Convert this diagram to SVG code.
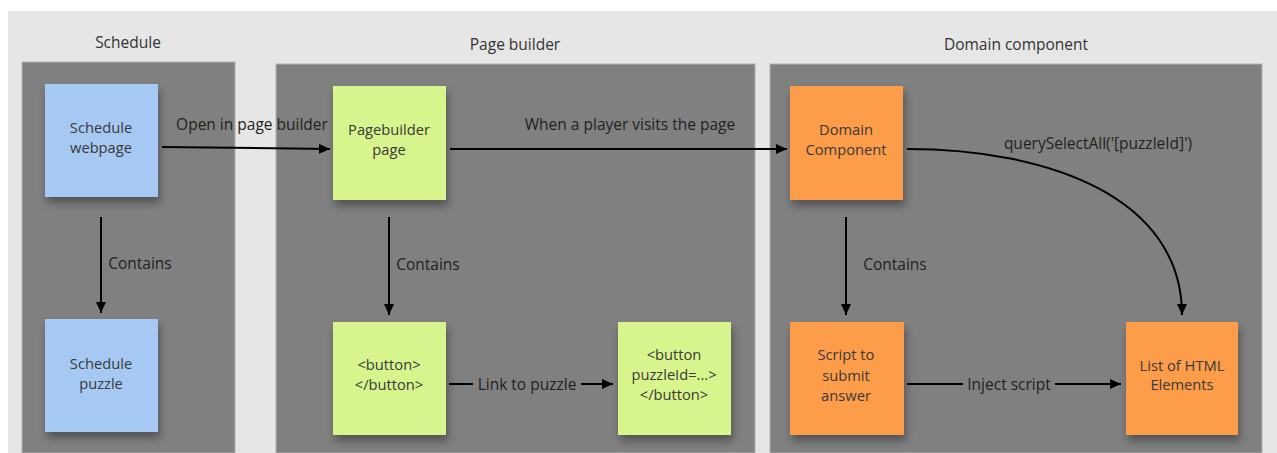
<svg xmlns="http://www.w3.org/2000/svg" width="1277" height="453" viewBox="0 0 1277 453">
<style>
text{font-family:"Open Sans","Liberation Sans",sans-serif;font-size:15.5px;text-anchor:middle}
.title{fill:#333}
.lbl{fill:#222}
.note text{fill:#3a3a3a;font-size:14.7px}
.panel{fill:#808080;stroke:#b0b0b0;stroke-width:1}
.blue{fill:#a6c9f3}
.green{fill:#d8f48d}
.orange{fill:#fd9d48}
.edge{stroke:#000;stroke-width:2;fill:none}
</style>
<defs>
<marker id="arr" markerUnits="userSpaceOnUse" markerWidth="12" markerHeight="10" refX="11" refY="5" orient="auto">
<path d="M0,0 L11,5 L0,10 z" fill="#000"/>
</marker>
<filter id="sh" x="-20%" y="-20%" width="140%" height="150%">
<feDropShadow dx="2" dy="6" stdDeviation="4" flood-color="#000" flood-opacity="0.35"/>
</filter>
</defs>
<rect x="0" y="0" width="1277" height="453" fill="#ffffff"/>
<rect x="8" y="11" width="1269" height="442" fill="#e6e6e6"/>
<g id="panel-schedule">
<rect class="panel" x="22" y="62" width="213" height="391"/>
<text class="title" x="128" y="48">Schedule</text>
</g>
<g id="panel-pagebuilder">
<rect class="panel" x="276" y="64" width="479" height="389"/>
<text class="title" x="515" y="50">Page builder</text>
</g>
<g id="panel-domain">
<rect class="panel" x="770" y="64" width="492" height="389"/>
<text class="title" x="1016" y="50">Domain component</text>
</g>
<g id="edges">
<path class="edge" d="M162,147 L330,149" marker-end="url(#arr)"/>
<text class="lbl" x="252" y="130">Open in page builder</text>
<path class="edge" d="M450,149 L787,149" marker-end="url(#arr)"/>
<text class="lbl" x="630" y="130">When a player visits the page</text>
<path class="edge" d="M101,217 L101,313" marker-end="url(#arr)"/>
<text class="lbl" x="140" y="269">Contains</text>
<path class="edge" d="M389,217 L389,315" marker-end="url(#arr)"/>
<text class="lbl" x="428" y="270">Contains</text>
<path class="edge" d="M846,217 L846,315" marker-end="url(#arr)"/>
<text class="lbl" x="895" y="270">Contains</text>
<path class="edge" d="M449,384 L473,384"/>
<path class="edge" d="M581,384 L613,384" marker-end="url(#arr)"/>
<text class="lbl" x="527" y="390" font-size="16.8">Link to puzzle</text>
<path class="edge" d="M907,384 L963,384"/>
<path class="edge" d="M1055,384 L1121,384" marker-end="url(#arr)"/>
<text class="lbl" x="1009" y="390" font-size="16.8">Inject script</text>
<path class="edge" d="M907,149 C1050,149 1182,198 1182,315" marker-end="url(#arr)"/>
<text class="lbl" x="1098" y="149">querySelectAll('[puzzleId]')</text>
</g>
<g id="node-schedule-webpage" class="note">
<rect class="blue" x="45" y="84" width="113" height="113" filter="url(#sh)"/>
<text x="101" y="133">Schedule</text>
<text x="101" y="153">webpage</text>
</g>
<g id="node-schedule-puzzle" class="note">
<rect class="blue" x="45" y="319" width="113" height="113" filter="url(#sh)"/>
<text x="101" y="369">Schedule</text>
<text x="101" y="389">puzzle</text>
</g>
<g id="node-pagebuilder-page" class="note">
<rect class="green" x="333" y="86" width="113" height="114" filter="url(#sh)"/>
<text x="389" y="135">Pagebuilder</text>
<text x="389" y="155">page</text>
</g>
<g id="node-button" class="note">
<rect class="green" x="333" y="322" width="113" height="113" filter="url(#sh)"/>
<text x="389" y="370">&lt;button&gt;</text>
<text x="389" y="390">&lt;/button&gt;</text>
</g>
<g id="node-button-puzzleid" class="note">
<rect class="green" x="618" y="322" width="113" height="113" filter="url(#sh)"/>
<text x="674" y="360">&lt;button</text>
<text x="674" y="380">puzzleId=...&gt;</text>
<text x="674" y="400">&lt;/button&gt;</text>
</g>
<g id="node-domain-component" class="note">
<rect class="orange" x="790" y="86" width="113" height="114" filter="url(#sh)"/>
<text x="846" y="135">Domain</text>
<text x="846" y="155">Component</text>
</g>
<g id="node-script" class="note">
<rect class="orange" x="790" y="322" width="114" height="113" filter="url(#sh)"/>
<text x="846" y="360">Script to</text>
<text x="846" y="381">submit</text>
<text x="846" y="401">answer</text>
</g>
<g id="node-list-html" class="note">
<rect class="orange" x="1126" y="322" width="112" height="113" filter="url(#sh)"/>
<text x="1182" y="371">List of HTML</text>
<text x="1182" y="390">Elements</text>
</g>
</svg>
